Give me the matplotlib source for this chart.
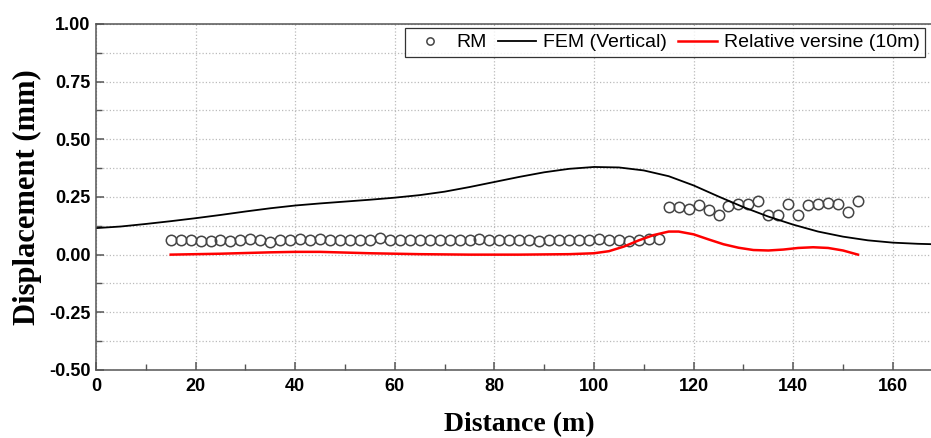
import numpy as np
import matplotlib
matplotlib.use("Agg")
import matplotlib.pyplot as plt
from matplotlib.ticker import MultipleLocator

# RM measurements (every 2 m)
rm_x = np.arange(15, 154, 2)
rm_y = [0.065, 0.065, 0.062, 0.060, 0.058, 0.065, 0.058, 0.065, 0.067, 0.065,
        0.055, 0.065, 0.065, 0.067, 0.065, 0.067, 0.065, 0.065, 0.065, 0.063,
        0.065, 0.072, 0.065, 0.065, 0.065, 0.065, 0.065, 0.065, 0.065, 0.065,
        0.065, 0.067, 0.065, 0.065, 0.065, 0.065, 0.065, 0.060, 0.065, 0.062,
        0.065, 0.065, 0.065, 0.067, 0.065, 0.065, 0.058, 0.062, 0.067, 0.067,
        0.205, 0.205, 0.200, 0.215, 0.194, 0.172, 0.211, 0.218, 0.218, 0.233,
        0.170, 0.170, 0.218, 0.172, 0.215, 0.218, 0.223, 0.220, 0.187, 0.233]

# FEM (vertical)
fem_x = [0, 5, 10, 15, 20, 25, 30, 35, 40, 45, 50, 55, 60, 65, 70, 75, 80, 85,
         90, 95, 100, 105, 110, 115, 120, 125, 130, 135, 140, 145, 150, 155,
         160, 165, 170]
fem_y = [0.115, 0.122, 0.133, 0.145, 0.158, 0.172, 0.187, 0.201, 0.213, 0.222,
         0.230, 0.238, 0.247, 0.258, 0.273, 0.293, 0.315, 0.337, 0.357, 0.372,
         0.380, 0.378, 0.365, 0.340, 0.300, 0.252, 0.206, 0.165, 0.130, 0.100,
         0.078, 0.062, 0.052, 0.047, 0.044]

# Relative versine (10m)
rv_x = [15, 20, 25, 30, 35, 40, 45, 50, 55, 60, 65, 70, 75, 80, 85, 90, 95,
        100, 103, 106, 109, 112, 115, 117, 120, 123, 126, 129, 132, 135, 138,
        141, 144, 147, 150, 153]
rv_y = [0.000, 0.002, 0.004, 0.007, 0.010, 0.012, 0.012, 0.009, 0.006, 0.004,
        0.002, 0.001, 0.000, 0.000, 0.000, 0.001, 0.002, 0.006, 0.015, 0.035,
        0.062, 0.085, 0.100, 0.100, 0.088, 0.066, 0.045, 0.030, 0.020, 0.018,
        0.022, 0.029, 0.032, 0.029, 0.018, 0.000]

fig = plt.figure(figsize=(9.31, 4.38), dpi=100)
ax = fig.add_axes([0.1031, 0.1553, 0.9094, 0.79])

ax.plot(rm_x, rm_y, 'o', ms=7.5, mfc='none', mec='#444444', mew=1.1, label='RM')
ax.plot(fem_x, fem_y, color='black', lw=1.3, label='FEM (Vertical)')
ax.plot(rv_x, rv_y, color='#ff0000', lw=1.8, label='Relative versine (10m)')

ax.set_xlim(0, 170)
ax.set_ylim(-0.5, 1.0)
ax.xaxis.set_major_locator(MultipleLocator(20))
ax.xaxis.set_minor_locator(MultipleLocator(10))
ax.yaxis.set_major_locator(MultipleLocator(0.25))
ax.yaxis.set_minor_locator(MultipleLocator(0.125))
ax.yaxis.set_major_formatter(matplotlib.ticker.FormatStrFormatter('%.2f'))

ax.grid(True, axis='x', which='major', ls=':', color='#bbbbbb', lw=0.9)
ax.grid(True, axis='y', which='both', ls=':', color='#bbbbbb', lw=0.9)
ax.set_axisbelow(True)

for s in ax.spines.values():
    s.set_color('#555555')
    s.set_linewidth(1.1)
ax.tick_params(which='major', direction='in', length=6, width=1.1, color='#555555', pad=4)
ax.tick_params(which='minor', direction='in', length=4, width=1.0, color='#555555')
ax.tick_params(axis='x', pad=6)
for lab in ax.get_xticklabels() + ax.get_yticklabels():
    lab.set_fontfamily('Liberation Sans')
    lab.set_fontweight('bold')
    lab.set_fontsize(13)

ax.set_xlabel('Distance (m)', family='Liberation Serif', weight='bold', fontsize=20, labelpad=12)
ax.set_ylabel('Displacement (mm)', family='Liberation Serif', weight='bold', fontsize=22, labelpad=5)

leg = ax.legend(loc='upper left', bbox_to_anchor=(405 / 931, 1 - 28 / 438),
                bbox_transform=fig.transFigure, ncol=3, frameon=True, fancybox=False,
                edgecolor='black', borderaxespad=0, borderpad=0.3, markerscale=0.7,
                handlelength=2.0, handletextpad=0.35, columnspacing=0.55,
                prop={'family': 'Liberation Sans', 'size': 14})
leg.get_frame().set_linewidth(0.9)

fig.savefig('out.png', dpi=100)
